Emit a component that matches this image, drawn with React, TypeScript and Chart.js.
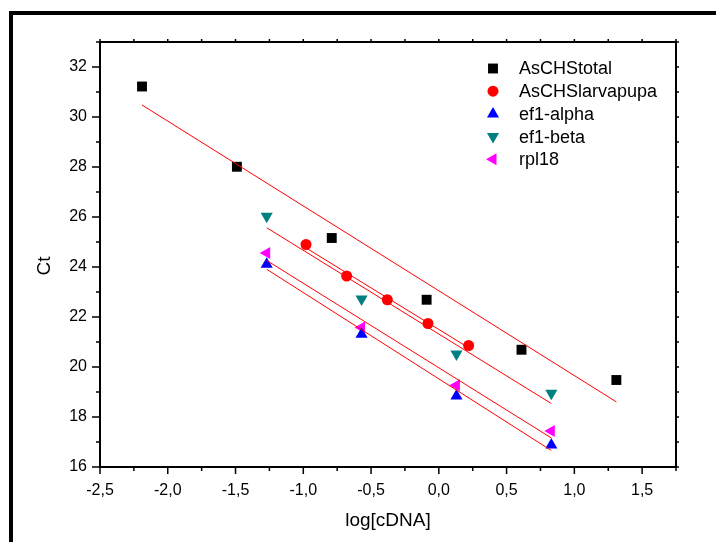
import React, { useEffect, useRef } from 'react';
import { Chart, registerables } from 'chart.js';

Chart.register(...registerables);

// ---------- data ----------
const seriesNames = ['AsCHStotal', 'AsCHSlarvapupa', 'ef1-alpha', 'ef1-beta', 'rpl18'];
const seriesColors = ['#000000', '#ff0000', '#0000ff', '#008080', '#ff00ff'];

const totalX = [-2.19, -1.49, -0.79, -0.09, 0.61, 1.31];
const totalY = [31.22, 28.01, 25.16, 22.69, 20.69, 19.48];

const larvaX = [-0.98, -0.68, -0.38, -0.08, 0.22];
const larvaY = [24.9, 23.64, 22.69, 21.74, 20.86];

const refX = [-1.27, -0.57, 0.13, 0.83];
const alphaY = [24.11, 21.31, 18.84, 16.88];
const betaY = [26.03, 22.72, 20.52, 18.95];
const rplY = [24.56, 21.58, 19.27, 17.44];

const xTicks = [-2.5, -2, -1.5, -1, -0.5, 0, 0.5, 1, 1.5];
const xTickLabels = ['-2,5', '-2,0', '-1,5', '-1,0', '-0,5', '0,0', '0,5', '1,0', '1,5'];
const xMinorTicks = [-2.25, -1.75, -1.25, -0.75, -0.25, 0.25, 0.75, 1.25, 1.75];
const yTicks = [16, 18, 20, 22, 24, 26, 28, 30, 32];
const yTickLabels = ['16', '18', '20', '22', '24', '26', '28', '30', '32'];
const yMinorTicks = [17, 19, 21, 23, 25, 27, 29, 31, 33];

const FONT = "'Liberation Sans', Arial, sans-serif";

type Pt = { x: number; y: number };

function toPoints(xs: number[], ys: number[]): Pt[] {
  return xs.map((x, i) => ({ x, y: ys[i] }));
}

// least-squares fit line across the data's x range
function fitLine(xs: number[], ys: number[]): Pt[] {
  const n = xs.length;
  const mx = xs.reduce((a, b) => a + b, 0) / n;
  const my = ys.reduce((a, b) => a + b, 0) / n;
  let sxy = 0;
  let sxx = 0;
  for (let i = 0; i < n; i++) {
    sxy += (xs[i] - mx) * (ys[i] - my);
    sxx += (xs[i] - mx) * (xs[i] - mx);
  }
  const b = sxy / sxx;
  const a = my - b * mx;
  const x0 = Math.min(...xs);
  const x1 = Math.max(...xs);
  return [
    { x: x0, y: a + b * x0 },
    { x: x1, y: a + b * x1 },
  ];
}

const seriesX = [totalX, larvaX, refX, refX, refX];
const seriesY = [totalY, larvaY, alphaY, betaY, rplY];
const seriesStyle = ['rect', 'circle', 'triangle', 'triangle', 'triangle'];
const seriesRotation = [0, 0, 0, 180, -90];
const seriesRadius = [7, 5.5, 7, 7, 7];

function drawMarker(
  ctx: CanvasRenderingContext2D,
  style: string,
  x: number,
  y: number,
  r: number,
  rotDeg: number,
  color: string
) {
  ctx.save();
  ctx.fillStyle = color;
  ctx.beginPath();
  if (style === 'rect') {
    const s = r * Math.SQRT1_2;
    ctx.rect(x - s, y - s, 2 * s, 2 * s);
  } else if (style === 'circle') {
    ctx.arc(x, y, r, 0, Math.PI * 2);
  } else {
    let rad = (rotDeg * Math.PI) / 180;
    ctx.moveTo(x + Math.sin(rad) * r, y - Math.cos(rad) * r);
    rad += (2 * Math.PI) / 3;
    ctx.lineTo(x + Math.sin(rad) * r, y - Math.cos(rad) * r);
    rad += (2 * Math.PI) / 3;
    ctx.lineTo(x + Math.sin(rad) * r, y - Math.cos(rad) * r);
    ctx.closePath();
  }
  ctx.fill();
  ctx.restore();
}

const decorPlugin = {
  id: 'decor',
  beforeDraw(chart: any) {
    const ctx: CanvasRenderingContext2D = chart.ctx;
    ctx.save();
    ctx.fillStyle = '#ffffff';
    ctx.fillRect(0, 0, chart.width, chart.height);
    // outer thick frame (extends past the window)
    ctx.strokeStyle = '#000000';
    ctx.lineWidth = 4;
    ctx.strokeRect(11, 13, 900, 700);
    ctx.restore();
  },
  afterDraw(chart: any) {
    const ctx: CanvasRenderingContext2D = chart.ctx;
    const { left, right, top, bottom } = chart.chartArea;
    const xs = chart.scales.x;
    const ys = chart.scales.y;
    ctx.save();
    ctx.strokeStyle = '#000000';
    // box
    ctx.lineWidth = 2;
    ctx.beginPath();
    ctx.rect(left, top, right - left, bottom - top);
    ctx.stroke();
    // ticks
    ctx.lineWidth = 1.5;
    ctx.beginPath();
    xTicks.forEach((v) => {
      const p = xs.getPixelForValue(v);
      ctx.moveTo(p, bottom);
      ctx.lineTo(p, bottom + 7);
      ctx.moveTo(p, top);
      ctx.lineTo(p, top - 3);
    });
    xMinorTicks.forEach((v) => {
      const p = xs.getPixelForValue(v);
      ctx.moveTo(p, bottom);
      ctx.lineTo(p, bottom + 4);
      ctx.moveTo(p, top);
      ctx.lineTo(p, top - 3);
    });
    yTicks.forEach((v) => {
      const p = ys.getPixelForValue(v);
      ctx.moveTo(left, p);
      ctx.lineTo(left - 8, p);
      ctx.moveTo(right, p);
      ctx.lineTo(right + 3, p);
    });
    yMinorTicks.forEach((v) => {
      const p = ys.getPixelForValue(v);
      ctx.moveTo(left, p);
      ctx.lineTo(left - 4, p);
      ctx.moveTo(right, p);
      ctx.lineTo(right + 3, p);
    });
    ctx.stroke();

    // y title
    ctx.fillStyle = '#000000';
    ctx.font = `19px ${FONT}`;
    ctx.textAlign = 'center';
    ctx.textBaseline = 'middle';
    ctx.save();
    ctx.translate(45, top + 224);
    ctx.rotate(-Math.PI / 2);
    ctx.fillText('Ct', 0, 0);
    ctx.restore();

    // legend
    ctx.font = `18px ${FONT}`;
    ctx.textAlign = 'left';
    ctx.textBaseline = 'middle';
    const mx = right - 183;
    const tx = right - 157;
    const y0 = top + 26.5;
    seriesNames.forEach((name, i) => {
      const y = y0 + i * 22.7;
      drawMarker(ctx, seriesStyle[i], mx, y, seriesRadius[i], seriesRotation[i], seriesColors[i]);
      ctx.fillStyle = '#000000';
      ctx.fillText(name, tx, y + 1);
    });
    ctx.restore();
  },
};

export default function App() {
  const ref = useRef<HTMLCanvasElement | null>(null);

  useEffect(() => {
    if (!ref.current) return;

    const lineSets = seriesNames.map((name, i) => ({
      label: name + ' fit',
      data: fitLine(seriesX[i], seriesY[i]),
      showLine: true,
      borderColor: '#ff0000',
      borderWidth: 1,
      pointRadius: 0,
      pointHoverRadius: 0,
      fill: false,
      order: 0,
    }));

    const pointSets = seriesNames.map((name, i) => ({
      label: name,
      data: toPoints(seriesX[i], seriesY[i]),
      showLine: false,
      pointStyle: seriesStyle[i],
      rotation: seriesRotation[i],
      pointRadius: seriesRadius[i],
      pointBackgroundColor: seriesColors[i],
      pointBorderColor: seriesColors[i],
      pointBorderWidth: 0,
      backgroundColor: seriesColors[i],
      borderColor: seriesColors[i],
      order: 1,
    }));

    const chart = new Chart(ref.current, {
      type: 'scatter',
      data: { datasets: [...lineSets, ...pointSets] as any },
      options: {
        animation: false,
        responsive: false,
        devicePixelRatio: 1,
        layout: { padding: { left: 0, top: 42, right: 40, bottom: 0 } },
        plugins: {
          legend: { display: false },
          tooltip: { enabled: false },
        },
        scales: {
          x: {
            type: 'linear',
            min: -2.5,
            max: 1.75,
            afterBuildTicks: (s: any) => {
              s.ticks = xTicks.map((v) => ({ value: v }));
            },
            afterFit: (s: any) => {
              s.height = 75;
            },
            grid: { display: false, drawTicks: false },
            border: { display: false },
            ticks: {
              autoSkip: false,
              maxRotation: 0,
              padding: 14,
              color: '#000000',
              font: { family: FONT, size: 16 },
              callback: (v: any) => {
                const i = xTicks.indexOf(Number(v));
                return i >= 0 ? xTickLabels[i] : '';
              },
            },
            title: {
              display: true,
              text: 'log[cDNA]',
              color: '#000000',
              font: { family: FONT, size: 19 },
              padding: { top: 0, bottom: 10 },
            },
          },
          y: {
            type: 'linear',
            min: 16,
            max: 33,
            afterBuildTicks: (s: any) => {
              s.ticks = yTicks.map((v) => ({ value: v }));
            },
            afterFit: (s: any) => {
              s.width = 100;
            },
            grid: { display: false, drawTicks: false },
            border: { display: false },
            ticks: {
              autoSkip: false,
              padding: 13,
              color: '#000000',
              font: { family: FONT, size: 16 },
              callback: (v: any) => {
                const i = yTicks.indexOf(Number(v));
                return i >= 0 ? yTickLabels[i] : '';
              },
            },
          },
        },
      },
      plugins: [decorPlugin],
    });

    return () => chart.destroy();
  }, []);

  return (
    <div style={{ position: 'fixed', left: 0, top: 0, width: 716, height: 542, overflow: 'hidden' }}>
      <canvas ref={ref} width={716} height={542} style={{ display: 'block' }} />
    </div>
  );
}
